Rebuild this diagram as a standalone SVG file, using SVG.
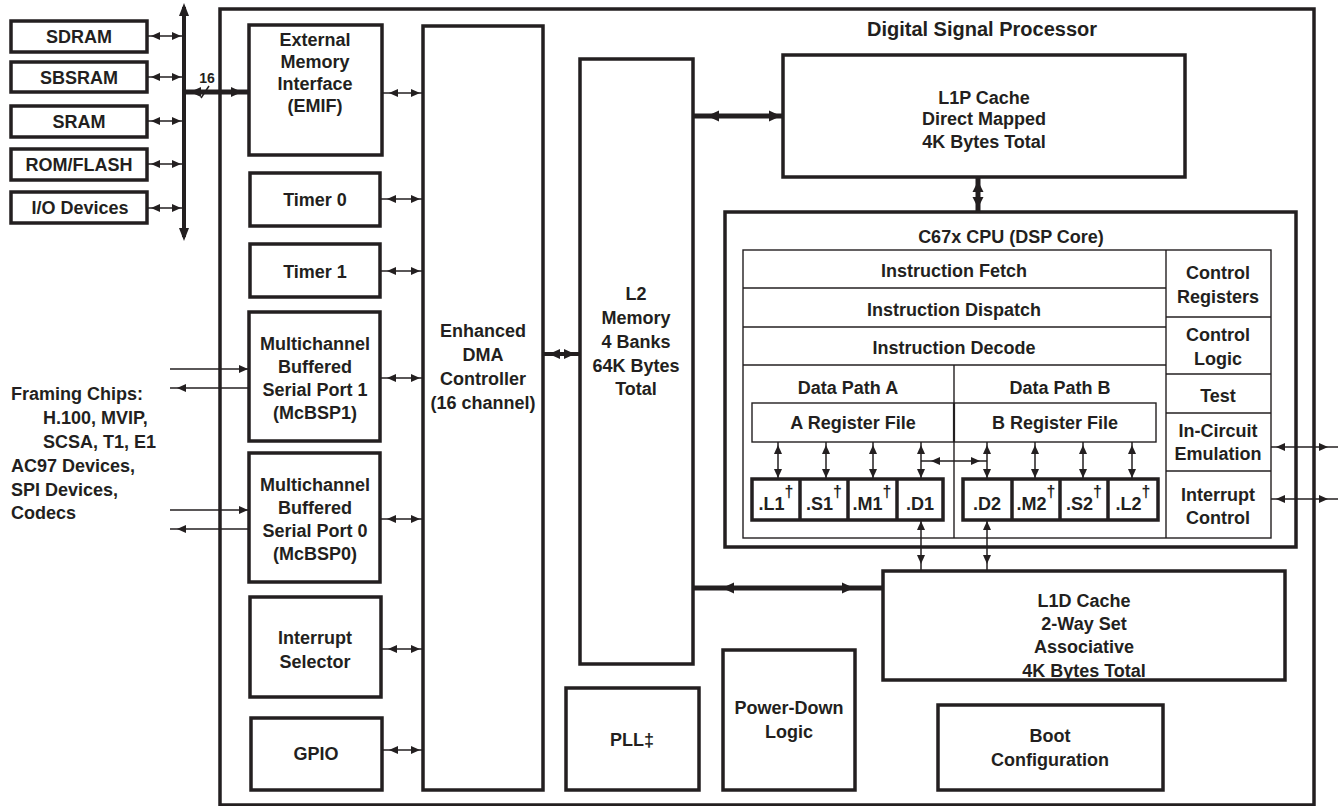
<svg xmlns="http://www.w3.org/2000/svg" width="1342" height="806" viewBox="0 0 1342 806">
<style>
.b{fill:#fff;stroke:#231f20;stroke-width:3.5}
.g{fill:none;stroke:#231f20;stroke-width:1.4}
.w{fill:#fff;stroke:#231f20;stroke-width:1.4}
.c{stroke:#231f20;stroke-width:1.5;fill:none}
.k{stroke:#231f20;stroke-width:5;fill:none}
.h{fill:#231f20}
text{font-family:"Liberation Sans",Arial,Helvetica,sans-serif;font-weight:bold;font-size:18px;fill:#231f20;text-anchor:middle}
.s{font-size:14px}
.d{font-size:16px}
.l{text-anchor:start}
.t{font-size:20px}
</style>
<defs>
<marker id="m1" markerUnits="userSpaceOnUse" viewBox="0 0 9 8" markerWidth="9" markerHeight="8" refX="10" refY="4" orient="auto-start-reverse"><path d="M0,0L9,4L0,8z" fill="#231f20"/></marker>
<marker id="m3" markerUnits="userSpaceOnUse" viewBox="0 0 9 8" markerWidth="9" markerHeight="8" refX="12" refY="4" orient="auto-start-reverse"><path d="M0,0L9,4L0,8z" fill="#231f20"/></marker>
<marker id="m5" markerUnits="userSpaceOnUse" viewBox="0 0 9 8" markerWidth="9" markerHeight="8" refX="14" refY="4" orient="auto-start-reverse"><path d="M0,0L9,4L0,8z" fill="#231f20"/></marker>
<marker id="m7" markerUnits="userSpaceOnUse" viewBox="0 0 9 8" markerWidth="9" markerHeight="8" refX="16" refY="4" orient="auto-start-reverse"><path d="M0,0L9,4L0,8z" fill="#231f20"/></marker>
<marker id="m10" markerUnits="userSpaceOnUse" viewBox="0 0 9 8" markerWidth="9" markerHeight="8" refX="19" refY="4" orient="auto-start-reverse"><path d="M0,0L9,4L0,8z" fill="#231f20"/></marker>
</defs>

<g id="dsp"><rect class="b" x="220" y="9" width="1094" height="796"/><text class="t" x="982" y="36">Digital Signal Processor</text></g>

<g id="sdram"><rect class="b" x="11" y="21" width="136" height="31"/><text x="79" y="43">SDRAM</text></g>
<g id="sbsram"><rect class="b" x="11" y="62" width="136" height="30"/><text x="79" y="84">SBSRAM</text></g>
<g id="sram"><rect class="b" x="11" y="106" width="136" height="31"/><text x="79" y="128">SRAM</text></g>
<g id="romflash"><rect class="b" x="11" y="149" width="136" height="31"/><text x="79" y="171">ROM/FLASH</text></g>
<g id="iodev"><rect class="b" x="11" y="192" width="136" height="31"/><text x="80" y="214">I/O Devices</text></g>

<g id="framing"><text class="l" x="11" y="400">Framing Chips:</text><text class="l" x="43" y="424">H.100, MVIP,</text><text class="l" x="43" y="448">SCSA, T1, E1</text><text class="l" x="11" y="472">AC97 Devices,</text><text class="l" x="11" y="496">SPI Devices,</text><text class="l" x="11" y="519">Codecs</text></g>

<g id="emif"><rect class="b" x="249" y="25" width="133" height="130"/><text x="315" y="46">External</text><text x="315" y="68">Memory</text><text x="315" y="90">Interface</text><text x="315" y="112">(EMIF)</text></g>
<g id="timer0"><rect class="b" x="250" y="173" width="130" height="53"/><text x="315" y="206">Timer 0</text></g>
<g id="timer1"><rect class="b" x="250" y="244" width="130" height="53"/><text x="315" y="278">Timer 1</text></g>
<g id="mcbsp1"><rect class="b" x="249" y="312" width="131" height="129"/><text x="315" y="350">Multichannel</text><text x="315" y="373">Buffered</text><text x="315" y="396">Serial Port 1</text><text x="315" y="419">(McBSP1)</text></g>
<g id="mcbsp0"><rect class="b" x="249" y="453" width="131" height="129"/><text x="315" y="491">Multichannel</text><text x="315" y="514">Buffered</text><text x="315" y="537">Serial Port 0</text><text x="315" y="560">(McBSP0)</text></g>
<g id="intsel"><rect class="b" x="250" y="597" width="131" height="100"/><text x="315" y="644">Interrupt</text><text x="315" y="668">Selector</text></g>
<g id="gpio"><rect class="b" x="251" y="718" width="131" height="72"/><text x="316" y="760">GPIO</text></g>
<g id="edma"><rect class="b" x="423" y="26" width="120" height="764"/><text x="483" y="337">Enhanced</text><text x="483" y="361">DMA</text><text x="483" y="385">Controller</text><text x="483" y="409">(16 channel)</text></g>
<g id="l2"><rect class="b" x="580" y="59" width="113" height="605"/><text x="636" y="300">L2</text><text x="636" y="324">Memory</text><text x="636" y="348">4 Banks</text><text x="636" y="372">64K Bytes</text><text x="636" y="395">Total</text></g>
<g id="l1p"><rect class="b" x="783" y="55" width="402" height="122"/><text x="984" y="104">L1P Cache</text><text x="984" y="125">Direct Mapped</text><text x="984" y="148">4K Bytes Total</text></g>

<g id="cpu"><rect class="b" x="725" y="212" width="571" height="335"/><text x="1011" y="243">C67x CPU (DSP Core)</text>
<rect class="g" x="743" y="250" width="528" height="288"/>
<line class="g" x1="1166" y1="250" x2="1166" y2="538"/>
<line class="g" x1="743" y1="288" x2="1166" y2="288"/>
<line class="g" x1="743" y1="327" x2="1166" y2="327"/>
<line class="g" x1="743" y1="365" x2="1166" y2="365"/>
<line class="g" x1="954" y1="365" x2="954" y2="538"/>
<line class="g" x1="1166" y1="317" x2="1271" y2="317"/>
<line class="g" x1="1166" y1="374" x2="1271" y2="374"/>
<line class="g" x1="1166" y1="413" x2="1271" y2="413"/>
<line class="g" x1="1166" y1="471" x2="1271" y2="471"/>
<text x="954" y="277">Instruction Fetch</text>
<text x="954" y="316">Instruction Dispatch</text>
<text x="954" y="354">Instruction Decode</text>
<text x="1218" y="279">Control</text><text x="1218" y="303">Registers</text>
<text x="1218" y="341">Control</text><text x="1218" y="365">Logic</text>
<text x="1218" y="402">Test</text>
<text x="1218" y="437">In-Circuit</text><text x="1218" y="460">Emulation</text>
<text x="1218" y="501">Interrupt</text><text x="1218" y="524">Control</text>
<text x="848" y="394">Data Path A</text>
<text x="1060" y="394">Data Path B</text>
<rect class="g" x="752" y="403" width="404" height="39"/>
<line class="g" x1="954" y1="403" x2="954" y2="442" style="stroke-width:2.2"/>
<text x="853" y="429">A Register File</text>
<text x="1055" y="429">B Register File</text>
</g>

<g id="unitsA"><rect class="b" x="752" y="479" width="191" height="41"/>
<line class="b" x1="800" y1="479" x2="800" y2="520"/><line class="b" x1="848" y1="479" x2="848" y2="520"/><line class="b" x1="897" y1="479" x2="897" y2="520"/>
<text x="776" y="510">.L1<tspan class="d" dy="-13">†</tspan></text>
<text x="824" y="510">.S1<tspan class="d" dy="-13">†</tspan></text>
<text x="872" y="510">.M1<tspan class="d" dy="-13">†</tspan></text>
<text x="920" y="510">.D1</text>
</g>
<g id="unitsB"><rect class="b" x="963" y="479" width="195" height="41"/>
<line class="b" x1="1012" y1="479" x2="1012" y2="520"/><line class="b" x1="1060" y1="479" x2="1060" y2="520"/><line class="b" x1="1108" y1="479" x2="1108" y2="520"/>
<text x="987" y="510">.D2</text>
<text x="1036" y="510">.M2<tspan class="d" dy="-13">†</tspan></text>
<text x="1084" y="510">.S2<tspan class="d" dy="-13">†</tspan></text>
<text x="1133" y="510">.L2<tspan class="d" dy="-13">†</tspan></text>
</g>

<g id="l1d"><rect class="b" x="883" y="571" width="402" height="109"/><text x="1084" y="607">L1D Cache</text><text x="1084" y="630">2-Way Set</text><text x="1084" y="653">Associative</text><text x="1084" y="677">4K Bytes Total</text></g>
<g id="pll"><rect class="b" x="566" y="688" width="133" height="102"/><text x="632" y="746">PLL‡</text></g>
<g id="powerdown"><rect class="b" x="723" y="650" width="132" height="140"/><text x="789" y="714">Power-Down</text><text x="789" y="738">Logic</text></g>
<g id="boot"><rect class="b" x="938" y="705" width="225" height="85"/><text x="1050" y="742">Boot</text><text x="1050" y="766">Configuration</text></g>

<g id="connectors">
<line x1="184" y1="7" x2="184" y2="237" stroke="#231f20" stroke-width="4"/>
<path class="h" d="M184,3L179,16L189,16z"/>
<path class="h" d="M184,241L179,228L189,228z"/>
<line class="c" x1="148" y1="36" x2="184" y2="36" marker-start="url(#m3)" marker-end="url(#m3)"/>
<line class="c" x1="148" y1="77" x2="184" y2="77" marker-start="url(#m3)" marker-end="url(#m3)"/>
<line class="c" x1="148" y1="121" x2="184" y2="121" marker-start="url(#m3)" marker-end="url(#m3)"/>
<line class="c" x1="148" y1="164" x2="184" y2="164" marker-start="url(#m3)" marker-end="url(#m3)"/>
<line class="c" x1="148" y1="208" x2="184" y2="208" marker-start="url(#m3)" marker-end="url(#m3)"/>
<line class="k" x1="184" y1="92" x2="249" y2="92"/>
<path class="h" d="M190,92L201,87L201,97z"/>
<path class="h" d="M242,92L231,87L231,97z"/>
<line class="c" x1="201" y1="98" x2="209" y2="86"/>
<text class="s" x="207" y="83">16</text>

<line class="c" x1="382" y1="93" x2="423" y2="93" marker-start="url(#m7)" marker-end="url(#m3)"/>
<line class="c" x1="380" y1="199" x2="423" y2="199" marker-start="url(#m7)" marker-end="url(#m3)"/>
<line class="c" x1="380" y1="271" x2="423" y2="271" marker-start="url(#m7)" marker-end="url(#m3)"/>
<line class="c" x1="380" y1="378" x2="423" y2="378" marker-start="url(#m7)" marker-end="url(#m3)"/>
<line class="c" x1="380" y1="519" x2="423" y2="519" marker-start="url(#m7)" marker-end="url(#m3)"/>
<line class="c" x1="381" y1="649" x2="423" y2="649" marker-start="url(#m7)" marker-end="url(#m3)"/>
<line class="c" x1="382" y1="750" x2="423" y2="750" marker-start="url(#m7)" marker-end="url(#m3)"/>

<line class="c" x1="170" y1="369" x2="249" y2="369" marker-end="url(#m1)"/>
<line class="c" x1="170" y1="388" x2="249" y2="388" marker-start="url(#m7)"/>
<line class="c" x1="170" y1="510" x2="249" y2="510" marker-end="url(#m1)"/>
<line class="c" x1="170" y1="529" x2="249" y2="529" marker-start="url(#m7)"/>

<line class="k" x1="543" y1="354" x2="580" y2="354" style="stroke-width:4"/>
<path class="h" d="M549,354L560,349L560,359z"/>
<path class="h" d="M575,354L564,349L564,359z"/>

<line class="k" x1="693" y1="116" x2="783" y2="116"/>
<path class="h" d="M707,116L719,110.5L719,121.5z"/>
<path class="h" d="M781,116L769,110.5L769,121.5z"/>

<line class="k" x1="978" y1="177" x2="978" y2="212"/>
<path class="h" d="M978,181L972.5,192L983.5,192z"/>
<path class="h" d="M978,208L972.5,197L983.5,197z"/>

<line class="k" x1="693" y1="588" x2="883" y2="588"/>
<path class="h" d="M722,588L734,582.5L734,593.5z"/>
<path class="h" d="M854,588L842,582.5L842,593.5z"/>

<line class="c" x1="778" y1="442" x2="778" y2="479" marker-start="url(#m3)" marker-end="url(#m1)"/>
<line class="c" x1="826" y1="442" x2="826" y2="479" marker-start="url(#m3)" marker-end="url(#m1)"/>
<line class="c" x1="873" y1="442" x2="873" y2="479" marker-start="url(#m3)" marker-end="url(#m1)"/>
<line class="c" x1="921" y1="442" x2="921" y2="479" marker-start="url(#m3)" marker-end="url(#m1)"/>
<line class="c" x1="987" y1="442" x2="987" y2="479" marker-start="url(#m3)" marker-end="url(#m1)"/>
<line class="c" x1="1035" y1="442" x2="1035" y2="479" marker-start="url(#m3)" marker-end="url(#m1)"/>
<line class="c" x1="1083" y1="442" x2="1083" y2="479" marker-start="url(#m3)" marker-end="url(#m1)"/>
<line class="c" x1="1132" y1="442" x2="1132" y2="479" marker-start="url(#m3)" marker-end="url(#m1)"/>
<line class="c" x1="921" y1="461" x2="987" y2="461" marker-start="url(#m10)" marker-end="url(#m7)"/>
<line class="c" x1="921" y1="520" x2="921" y2="571" marker-start="url(#m1)" marker-end="url(#m7)"/>
<line class="c" x1="987" y1="520" x2="987" y2="571" marker-start="url(#m1)" marker-end="url(#m7)"/>

<line class="c" x1="1271" y1="447" x2="1338" y2="447" marker-start="url(#m5)" marker-end="url(#m10)"/>
<line class="c" x1="1271" y1="499" x2="1338" y2="499" marker-start="url(#m5)" marker-end="url(#m10)"/>
</g>
</svg>
